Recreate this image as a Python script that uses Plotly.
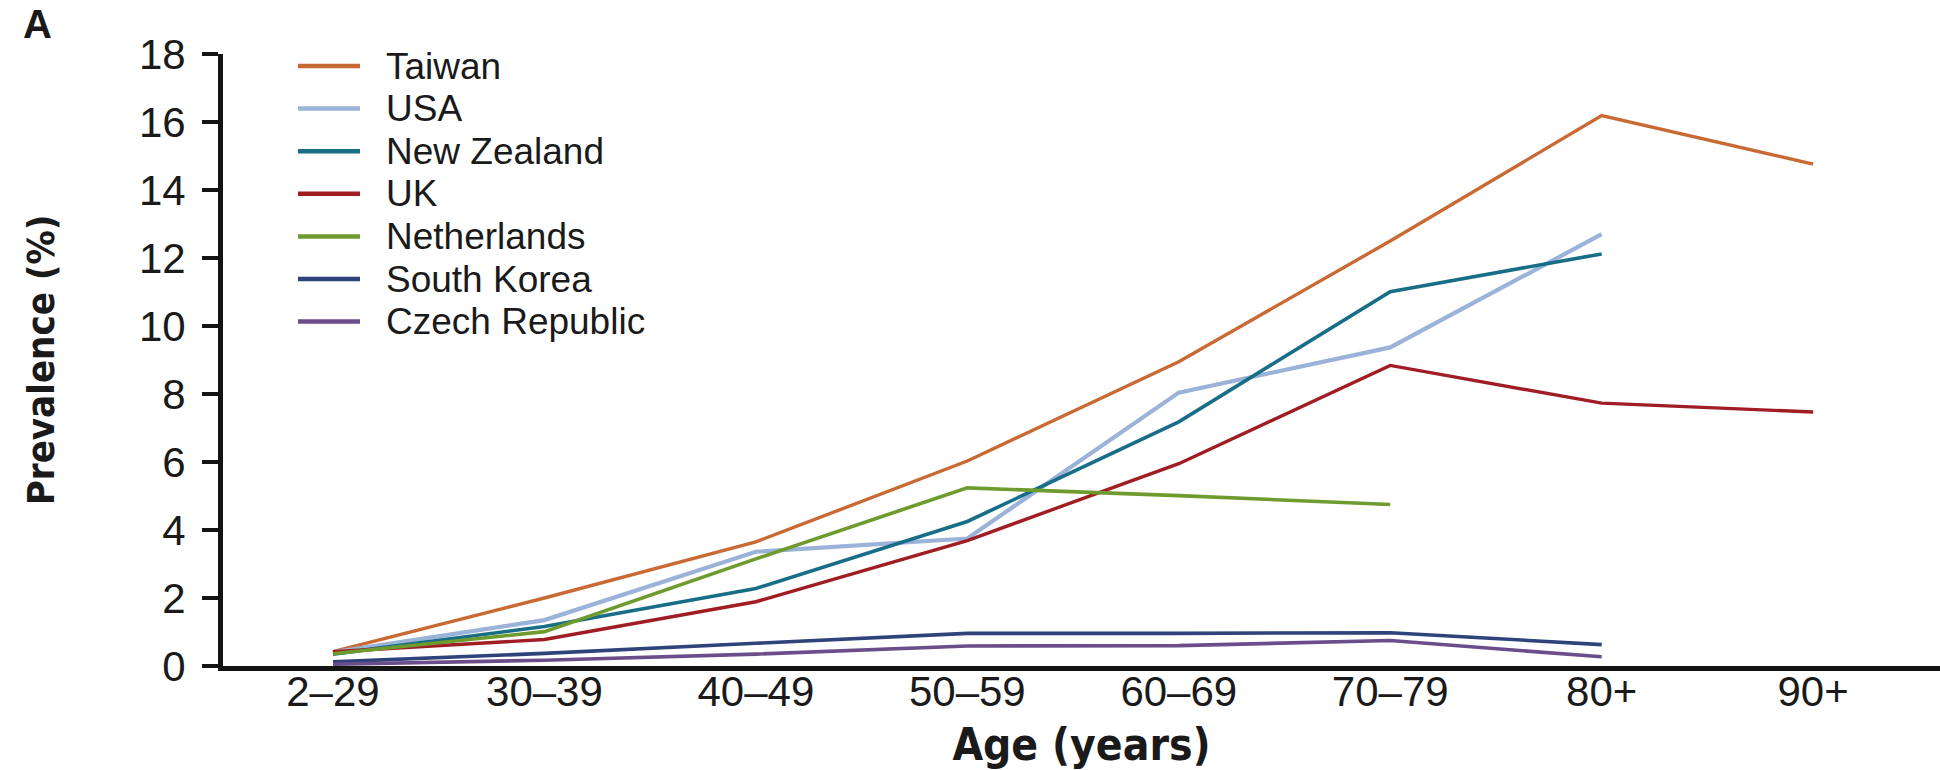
import plotly.graph_objects as go

# ---- data ----
age_groups = ["2–29", "30–39", "40–49", "50–59", "60–69", "70–79", "80+", "90+"]
countries = ["Taiwan", "USA", "New Zealand", "UK", "Netherlands", "South Korea", "Czech Republic"]

taiwan = [0.42, 2.00, 3.65, 6.03, 8.95, 12.50, 16.19, 14.76]
usa = [0.40, 1.35, 3.36, 3.75, 8.04, 9.37, 12.70]
new_zealand = [0.35, 1.16, 2.28, 4.25, 7.18, 11.01, 12.12]
uk = [0.42, 0.78, 1.89, 3.69, 5.95, 8.84, 7.73, 7.47]
netherlands = [0.36, 1.01, 3.15, 5.24, 5.01, 4.75]
south_korea = [0.12, 0.37, 0.67, 0.96, 0.96, 0.98, 0.63]
czech_republic = [0.05, 0.17, 0.35, 0.59, 0.60, 0.75, 0.27]

y_ticks = [0, 2, 4, 6, 8, 10, 12, 14, 16, 18]

series = [taiwan, usa, new_zealand, uk, netherlands, south_korea, czech_republic]
colors = ["#C96A35", "#9BB3D9", "#176E86", "#A11D24", "#6E9B2D", "#2D4379", "#6B4D8B"]
widths = [3.4, 4.2, 3.6, 3.4, 3.6, 3.6, 3.6]

# ---- layout constants ----
W, H = 1940, 770
ML, MR, MT, MB = 223, 0, 54, 104
PW, PH = W - ML - MR, H - MT - MB
TEXT = "#1a1a1a"
SANS = "Liberation Sans, Arial, sans-serif"
NARROW = "Liberation Sans Narrow, Arial Narrow, DejaVu Sans Condensed, sans-serif"

fig = go.Figure()
for name, vals, col, lw in zip(countries, series, colors, widths):
    fig.add_trace(go.Scatter(
        x=age_groups[:len(vals)], y=vals, name=name, mode="lines",
        line=dict(color=col, width=lw), showlegend=False,
    ))

# manual legend (compact row pitch like the reference)
leg_line_x0, leg_line_x1, leg_text_x = 298, 360, 385
leg_row0, leg_pitch = 66, 42.6
shapes, annotations = [], []
for i, (name, col) in enumerate(zip(countries, colors)):
    py = leg_row0 + i * leg_pitch
    yp = (H - MB - py) / PH
    shapes.append(dict(type="line", xref="paper", yref="paper",
                       x0=(leg_line_x0 - ML) / PW, x1=(leg_line_x1 - ML) / PW,
                       y0=yp, y1=yp, line=dict(color=col, width=4.5)))
    annotations.append(dict(xref="paper", yref="paper", x=(leg_text_x - ML) / PW, y=yp,
                            xanchor="left", yanchor="middle", showarrow=False, text=name,
                            borderpad=0,
                            font=dict(family=SANS, size=37, color=TEXT)))

# panel letter
annotations.append(dict(xref="paper", yref="paper", x=(37 - ML) / PW, y=(H - MB - 24) / PH,
                        xanchor="center", yanchor="middle", showarrow=False, text="<b>A</b>",
                        font=dict(family=SANS, size=40, color=TEXT)))

fig.update_layout(
    width=W, height=H,
    margin=dict(l=ML, r=MR, t=MT, b=MB, pad=0),
    paper_bgcolor="white", plot_bgcolor="white",
    shapes=shapes, annotations=annotations,
    xaxis=dict(
        type="category", categoryorder="array", categoryarray=age_groups,
        range=[-0.52, 7.6], showgrid=False, zeroline=False,
        showline=True, linecolor="#141414", linewidth=5,
        ticks="", ticklabelstandoff=-15,
        tickfont=dict(family=SANS, size=42, color=TEXT),
        title=dict(text="<b>Age (years)</b>", standoff=24,
                   font=dict(family=NARROW, size=44, color=TEXT)),
    ),
    yaxis=dict(
        range=[0, 18], tickvals=y_ticks, showgrid=False, zeroline=False,
        showline=True, linecolor="#141414", linewidth=5,
        ticks="outside", ticklen=16, tickwidth=4, tickcolor="#141414",
        ticklabelstandoff=8,
        tickfont=dict(family=SANS, size=42, color=TEXT),
        title=dict(text="<b>Prevalence (%)</b>", standoff=74,
                   font=dict(family=NARROW, size=38, color=TEXT)),
    ),
)

fig.write_html("out.html")
